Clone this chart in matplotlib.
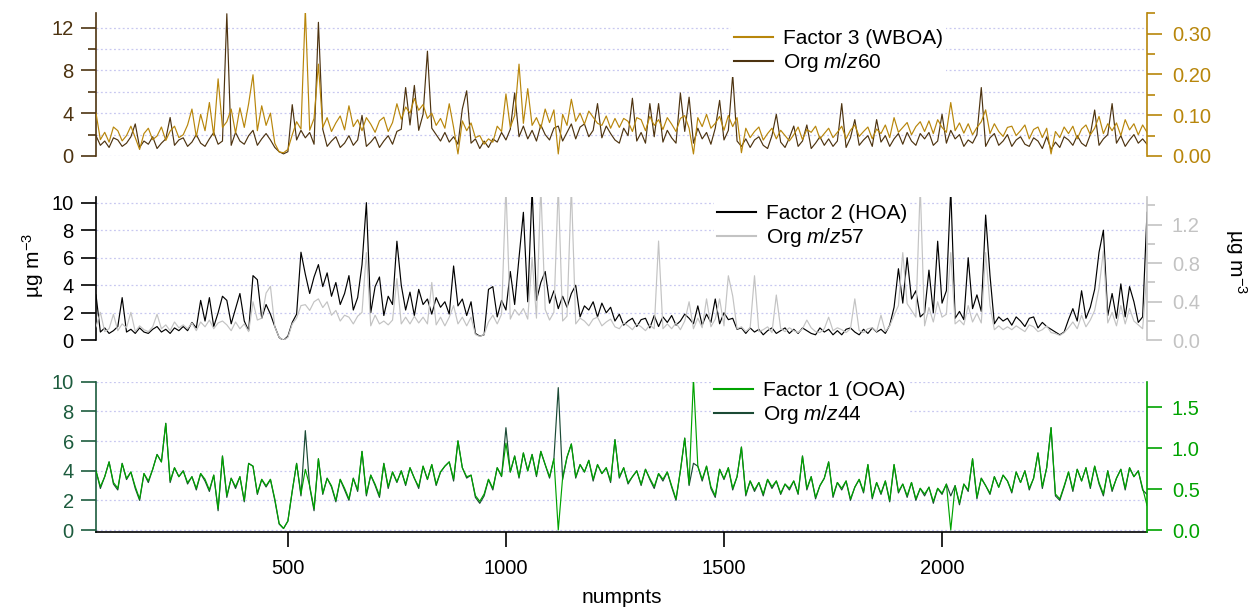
import matplotlib
matplotlib.use('Agg')
import matplotlib.pyplot as plt
import numpy as np
from matplotlib.lines import Line2D
from matplotlib.ticker import FormatStrFormatter, FixedLocator

plt.rcParams['font.family'] = ['Liberation Sans', 'DejaVu Sans']
plt.rcParams['mathtext.fontset'] = 'custom'
plt.rcParams['mathtext.rm'] = 'Liberation Sans'
plt.rcParams['mathtext.it'] = 'Liberation Sans:italic'

# ---------------- data ----------------
numpnts = np.arange(60, 2480, 10)

org_mz60 = [
    1.9, 1.0, 1.4, 0.8, 1.7, 1.5, 0.9, 1.2, 1.8, 3.0,
    0.8, 1.4, 1.1, 1.8, 0.7, 1.2, 1.6, 3.6, 1.0, 1.5,
    1.7, 0.9, 1.3, 2.0, 1.2, 0.9, 1.6, 2.2, 1.1, 1.4,
    13.3, 1.0, 2.2, 1.4, 1.1, 1.9, 2.4, 1.0, 1.6, 2.1,
    1.5, 0.8, 0.4, 0.2, 0.4, 4.8, 1.5, 2.4, 1.7, 2.2,
    1.1, 12.5, 2.5, 0.9, 1.4, 1.8, 0.8, 1.2, 1.9, 1.0,
    1.5, 3.8, 0.9, 1.3, 1.8, 0.8, 1.4, 1.9, 1.1, 2.3,
    2.5, 6.4, 2.9, 6.6, 2.4, 3.9, 9.8, 2.6, 2.0, 1.4,
    2.2, 1.3, 1.8, 1.1, 4.4, 6.1, 1.2, 1.6, 0.7, 1.4,
    0.8, 1.6, 1.3, 2.2, 1.5, 2.5, 5.9, 1.8, 2.8, 1.6,
    2.4, 1.4, 2.9, 2.0, 1.5, 2.6, 2.8, 1.4, 2.2, 3.0,
    1.6, 2.7, 3.0, 1.8, 2.4, 4.9, 1.7, 2.8, 2.1, 1.5,
    1.2, 2.6, 1.9, 5.4, 1.4, 2.2, 1.2, 4.9, 1.8, 4.9,
    1.3, 2.4, 1.7, 1.2, 5.9, 2.3, 5.5, 1.2, 2.6, 1.6,
    2.2, 1.1, 2.6, 5.2, 1.5, 2.4, 7.6, 1.4, 0.9, 1.6,
    0.8, 1.5, 1.8, 1.0, 0.7, 1.9, 3.9, 1.3, 0.8, 1.7,
    2.8, 0.9, 1.4, 2.9, 0.7, 1.2, 1.8, 1.0, 1.6, 0.9,
    1.4, 4.9, 0.8, 1.7, 3.4, 1.0, 1.5, 1.9, 0.9, 3.4,
    1.3, 1.9, 0.9, 1.6, 2.1, 1.1, 2.2, 1.4, 1.0, 2.1,
    1.6, 2.2, 1.0, 1.4, 3.9, 1.2, 2.4, 1.6, 2.0, 0.9,
    1.5, 1.2, 2.0, 6.4, 0.9, 1.7, 2.1, 1.0, 1.4, 2.0,
    0.9, 1.5, 1.8, 1.1, 0.9, 1.7, 1.4, 0.7, 1.8, 0.6,
    1.3, 0.8, 1.8, 1.5, 1.0, 1.9, 1.2, 0.9, 2.0, 4.3,
    1.0, 1.6, 2.0, 4.9, 1.2, 1.9, 0.9, 1.5, 2.0, 1.2,
    1.6, 1.1]

factor3_wboa = [
    0.105, 0.040, 0.058, 0.034, 0.071, 0.062, 0.037, 0.050, 0.073, 0.045,
    0.016, 0.055, 0.068, 0.040, 0.049, 0.071, 0.038, 0.061, 0.073, 0.045,
    0.052, 0.076, 0.115, 0.047, 0.102, 0.062, 0.131, 0.050, 0.189, 0.070,
    0.084, 0.115, 0.056, 0.118, 0.070, 0.128, 0.199, 0.062, 0.123, 0.075,
    0.105, 0.031, 0.010, 0.008, 0.016, 0.052, 0.084, 0.066, 0.360, 0.063,
    0.092, 0.225, 0.070, 0.094, 0.060, 0.081, 0.098, 0.064, 0.123, 0.072,
    0.089, 0.062, 0.094, 0.078, 0.058, 0.086, 0.095, 0.060, 0.082, 0.128,
    0.090, 0.120, 0.105, 0.141, 0.112, 0.126, 0.092, 0.105, 0.075, 0.092,
    0.068, 0.128, 0.070, 0.005, 0.086, 0.062, 0.081, 0.045, 0.050, 0.029,
    0.042, 0.034, 0.073, 0.060, 0.152, 0.070, 0.099, 0.225, 0.080, 0.165,
    0.075, 0.094, 0.068, 0.115, 0.082, 0.113, 0.005, 0.102, 0.075, 0.139,
    0.085, 0.105, 0.078, 0.110, 0.095, 0.080, 0.075, 0.098, 0.068, 0.092,
    0.070, 0.092, 0.085, 0.060, 0.094, 0.089, 0.062, 0.097, 0.075, 0.089,
    0.065, 0.094, 0.078, 0.060, 0.092, 0.099, 0.068, 0.005, 0.094, 0.072,
    0.102, 0.068, 0.080, 0.097, 0.063, 0.099, 0.072, 0.094, 0.008, 0.068,
    0.045, 0.060, 0.071, 0.039, 0.055, 0.068, 0.042, 0.063, 0.050, 0.037,
    0.052, 0.071, 0.040, 0.065, 0.058, 0.073, 0.042, 0.055, 0.068, 0.045,
    0.058, 0.073, 0.042, 0.063, 0.076, 0.048, 0.060, 0.071, 0.042, 0.066,
    0.055, 0.076, 0.045, 0.094, 0.058, 0.070, 0.082, 0.052, 0.072, 0.084,
    0.060, 0.086, 0.055, 0.089, 0.070, 0.058, 0.131, 0.062, 0.081, 0.056,
    0.079, 0.052, 0.070, 0.084, 0.113, 0.055, 0.079, 0.060, 0.048, 0.070,
    0.073, 0.050, 0.062, 0.076, 0.042, 0.065, 0.071, 0.045, 0.068, 0.005,
    0.060, 0.045, 0.071, 0.055, 0.073, 0.042, 0.066, 0.076, 0.052, 0.068,
    0.097, 0.055, 0.079, 0.062, 0.081, 0.050, 0.089, 0.064, 0.079, 0.052,
    0.076, 0.058]

factor2_hoa = [
    3.3, 0.6, 0.9, 0.5, 0.7, 1.0, 3.1, 0.6, 0.8, 0.5,
    0.9, 0.6, 0.5, 0.8, 1.0, 0.6, 0.8, 0.5, 0.9, 0.7,
    1.0, 0.7, 1.3, 0.9, 2.9, 1.4, 3.1, 1.0, 2.0, 3.2,
    2.9, 1.2, 2.3, 3.4, 1.4, 0.7, 4.7, 4.4, 1.6, 2.6,
    1.9, 1.0, 0.2, 0.0, 0.3, 1.3, 1.9, 6.4, 4.8, 3.4,
    4.6, 5.5, 3.9, 4.9, 3.2, 4.2, 2.6, 3.4, 4.7, 2.2,
    3.1, 5.5, 10.0, 2.0, 3.9, 4.6, 1.8, 3.2, 2.6, 7.2,
    4.0, 2.2, 3.5, 1.8, 3.7, 2.6, 3.0, 1.9, 3.1, 2.4,
    2.8, 1.9, 5.4, 2.5, 3.0, 1.8, 2.8, 0.5, 0.3, 0.4,
    3.7, 3.9, 1.7, 2.9, 2.2, 5.0, 2.6, 6.0, 9.3, 2.8,
    11.0, 2.9, 4.2, 5.0, 2.7, 3.6, 2.3, 3.2, 2.4, 3.4,
    4.0, 1.7, 2.5, 2.2, 2.8, 1.7, 2.7, 2.0, 2.4, 1.4,
    1.9, 1.1, 1.4, 1.6, 1.0, 1.5, 1.6, 0.9, 1.8, 1.0,
    1.7, 1.3, 1.8, 1.1, 1.4, 1.9, 1.6, 1.2, 2.5, 1.1,
    1.9, 1.3, 3.0, 1.2, 2.0, 1.5, 1.6, 0.8, 0.9, 0.5,
    0.9, 0.6, 0.8, 0.4, 0.7, 0.9, 0.5, 0.7, 0.9, 0.5,
    0.8, 0.5, 0.9, 0.7, 0.5, 0.4, 0.9, 0.6, 0.8, 0.4,
    0.7, 0.4, 0.8, 0.9, 0.6, 0.4, 0.8, 0.5, 0.9, 0.6,
    0.8, 0.5, 1.1, 2.4, 5.2, 2.7, 6.0, 3.0, 3.6, 1.7,
    2.0, 5.1, 2.0, 7.2, 2.7, 3.6, 11.0, 1.6, 2.1, 1.5,
    6.0, 2.3, 3.3, 2.1, 9.1, 4.7, 1.2, 1.7, 1.4, 1.6,
    1.1, 1.7, 1.4, 1.0, 1.6, 1.7, 0.9, 1.3, 1.0, 0.8,
    0.6, 0.4, 0.6, 1.5, 2.3, 1.4, 3.6, 1.6, 2.4, 3.7,
    6.4, 8.0, 1.8, 3.4, 1.6, 4.1, 1.7, 3.9, 2.8, 1.3,
    1.7, 9.3]

org_mz57 = [
    0.14, 0.29, 0.09, 0.12, 0.27, 0.10, 0.17, 0.13, 0.29, 0.09,
    0.15, 0.11, 0.09, 0.14, 0.27, 0.12, 0.16, 0.10, 0.19, 0.13,
    0.16, 0.12, 0.18, 0.10, 0.19, 0.14, 0.21, 0.12, 0.18, 0.20,
    0.16, 0.10, 0.19, 0.12, 0.17, 0.09, 0.40, 0.21, 0.23, 0.49,
    0.56, 0.14, 0.03, 0.00, 0.03, 0.17, 0.23, 0.36, 0.37, 0.31,
    0.40, 0.43, 0.34, 0.40, 0.26, 0.31, 0.20, 0.26, 0.24, 0.17,
    0.25, 0.29, 0.91, 0.15, 0.26, 0.17, 0.20, 0.16, 0.21, 0.64,
    0.17, 0.24, 0.17, 0.25, 0.18, 0.24, 0.17, 0.60, 0.16, 0.24,
    0.15, 0.24, 0.36, 0.17, 0.24, 0.15, 0.24, 0.06, 0.04, 0.06,
    0.19, 0.26, 0.17, 0.27, 1.60, 0.22, 0.32, 0.26, 0.33, 0.22,
    0.86, 0.23, 1.60, 0.32, 0.21, 0.29, 1.60, 0.20, 0.25, 1.60,
    0.17, 0.23, 0.20, 0.15, 0.22, 0.24, 0.15, 0.19, 0.22, 0.14,
    0.12, 0.18, 0.15, 0.11, 0.17, 0.14, 0.10, 0.16, 0.12, 1.03,
    0.12, 0.17, 0.12, 0.18, 0.11, 0.20, 0.40, 0.12, 0.23, 0.13,
    0.43, 0.14, 0.22, 0.43, 0.15, 0.67, 0.46, 0.12, 0.14, 0.09,
    0.13, 0.67, 0.09, 0.11, 0.14, 0.08, 0.47, 0.12, 0.09, 0.13,
    0.10, 0.08, 0.12, 0.21, 0.13, 0.09, 0.08, 0.12, 0.24, 0.10,
    0.13, 0.11, 0.08, 0.12, 0.43, 0.10, 0.08, 0.12, 0.13, 0.09,
    0.26, 0.09, 0.15, 0.26, 0.36, 0.91, 0.38, 0.31, 0.24, 1.60,
    0.15, 0.34, 0.19, 0.40, 0.24, 0.27, 0.91, 0.17, 0.21, 0.16,
    0.36, 0.19, 0.28, 0.18, 0.91, 0.36, 0.11, 0.15, 0.11, 0.14,
    0.11, 0.15, 0.12, 0.09, 0.16, 0.14, 0.09, 0.11, 0.15, 0.08,
    0.07, 0.05, 0.08, 0.13, 0.19, 0.12, 0.26, 0.14, 0.21, 0.31,
    0.54, 0.93, 0.18, 0.29, 0.15, 0.36, 0.17, 0.33, 0.20, 0.16,
    0.12, 0.71]

org_mz44 = [
    4.0, 2.8, 3.6, 4.6, 3.1, 2.7, 4.5, 3.4, 3.9, 2.8,
    2.0, 3.8, 3.2, 4.1, 5.1, 4.6, 7.2, 3.2, 4.2, 3.6,
    4.0, 3.1, 3.6, 2.7, 3.8, 3.3, 2.6, 3.7, 1.3, 5.0,
    2.2, 3.5, 2.8, 3.6, 1.9, 4.5, 4.3, 2.4, 3.4, 2.9,
    3.4, 2.0, 0.4, 0.1, 0.6, 2.6, 4.5, 2.3, 6.7, 2.9,
    1.3, 4.8, 2.4, 3.5, 2.9, 1.9, 3.4, 2.7, 2.0, 3.5,
    2.6, 5.3, 2.3, 3.7, 3.0, 2.2, 4.5, 2.8, 3.9, 3.2,
    4.0, 3.0, 4.2, 3.5, 2.8, 4.3, 3.4, 4.4, 3.0, 3.9,
    4.3, 4.6, 3.3, 6.0, 4.2, 3.5, 3.7, 2.2, 1.8, 2.3,
    3.4, 2.7, 4.2, 3.6, 6.9, 3.9, 5.0, 3.5, 5.2, 4.0,
    5.1, 3.6, 5.3, 4.4, 3.5, 4.8, 9.6, 3.4, 4.9, 5.8,
    3.5, 4.4, 3.9, 4.7, 3.3, 4.4, 3.8, 4.2, 3.2, 6.1,
    3.5, 4.2, 3.1, 3.6, 4.0, 3.0, 4.1, 3.4, 2.8, 3.8,
    3.3, 3.9, 2.9, 2.0, 4.0, 6.2, 3.0, 4.5, 4.3, 3.3,
    4.3, 2.8, 2.2, 4.1, 3.4, 4.2, 2.7, 3.6, 5.6, 2.3,
    3.3, 2.6, 3.2, 2.3, 3.4, 2.8, 3.3, 2.4, 3.1, 2.7,
    3.3, 2.4, 5.0, 2.7, 3.6, 2.1, 3.0, 3.5, 4.6, 2.2,
    3.2, 2.7, 3.3, 2.0, 2.9, 3.4, 2.5, 4.4, 2.1, 3.2,
    2.4, 3.3, 1.9, 4.4, 2.5, 3.1, 2.2, 3.2, 2.0, 2.8,
    2.3, 2.9, 1.8, 2.8, 2.4, 3.1, 2.3, 3.0, 1.7, 3.1,
    2.6, 4.8, 2.1, 3.5, 3.0, 2.4, 3.6, 2.9, 3.7, 3.3,
    2.5, 3.9, 3.2, 4.0, 2.7, 3.5, 5.2, 2.8, 4.2, 6.9,
    2.3, 2.0, 2.9, 3.9, 2.6, 4.1, 3.3, 4.2, 2.8, 4.3,
    3.1, 2.3, 4.0, 2.6, 3.5, 4.1, 2.7, 4.2, 3.6, 4.0,
    2.7, 2.4]

factor1_ooa = [
    0.72, 0.53, 0.65, 0.83, 0.58, 0.51, 0.81, 0.63, 0.71, 0.53,
    0.38, 0.69, 0.60, 0.74, 0.92, 0.83, 1.30, 0.60, 0.76, 0.65,
    0.72, 0.58, 0.65, 0.51, 0.69, 0.62, 0.49, 0.67, 0.26, 0.90,
    0.42, 0.63, 0.53, 0.65, 0.36, 0.81, 0.78, 0.45, 0.62, 0.54,
    0.62, 0.38, 0.08, 0.02, 0.11, 0.48, 0.81, 0.44, 0.74, 0.54,
    0.26, 0.87, 0.45, 0.63, 0.54, 0.36, 0.62, 0.51, 0.38, 0.63,
    0.49, 0.96, 0.44, 0.67, 0.56, 0.42, 0.81, 0.53, 0.71, 0.59,
    0.72, 0.56, 0.76, 0.63, 0.53, 0.78, 0.62, 0.80, 0.56, 0.71,
    0.78, 0.83, 0.62, 1.09, 0.76, 0.65, 0.67, 0.42, 0.35, 0.44,
    0.62, 0.51, 0.76, 0.66, 1.06, 0.71, 0.90, 0.65, 0.94, 0.72,
    0.92, 0.67, 0.96, 0.80, 0.65, 0.87, 0.00, 0.64, 0.89, 1.05,
    0.65, 0.80, 0.71, 0.85, 0.62, 0.80, 0.69, 0.76, 0.60, 1.10,
    0.65, 0.76, 0.58, 0.65, 0.72, 0.56, 0.74, 0.63, 0.53, 0.69,
    0.62, 0.71, 0.54, 0.38, 0.72, 1.12, 0.56, 1.85, 0.78, 0.62,
    0.78, 0.53, 0.42, 0.74, 0.63, 0.76, 0.51, 0.65, 1.01, 0.44,
    0.60, 0.49, 0.58, 0.44, 0.62, 0.53, 0.60, 0.45, 0.56, 0.51,
    0.60, 0.45, 0.90, 0.51, 0.65, 0.40, 0.54, 0.63, 0.83, 0.42,
    0.58, 0.51, 0.60, 0.38, 0.52, 0.62, 0.47, 0.80, 0.40, 0.58,
    0.45, 0.60, 0.36, 0.80, 0.47, 0.56, 0.42, 0.58, 0.38, 0.51,
    0.44, 0.52, 0.35, 0.51, 0.45, 0.56, 0.00, 0.54, 0.33, 0.56,
    0.49, 0.87, 0.40, 0.63, 0.54, 0.45, 0.65, 0.52, 0.67, 0.60,
    0.47, 0.71, 0.58, 0.72, 0.51, 0.63, 0.94, 0.53, 0.76, 1.25,
    0.44, 0.38, 0.54, 0.71, 0.49, 0.74, 0.60, 0.76, 0.53, 0.78,
    0.58, 0.44, 0.72, 0.49, 0.63, 0.74, 0.51, 0.76, 0.65, 0.72,
    0.51, 0.30]

series = dict(org_mz60=org_mz60, factor3_wboa=factor3_wboa, factor2_hoa=factor2_hoa,
              org_mz57=org_mz57, org_mz44=org_mz44, factor1_ooa=factor1_ooa)
bad = {k: len(v) for k, v in series.items() if len(v) != len(numpnts)}
if bad:
    raise ValueError(f"length mismatch {bad} vs {len(numpnts)}")

# ---------------- style ----------------
BROWN = '#4d3310'
GOLD = '#b8860b'
GREY = '#c3c3c3'
DKGREEN_AX = '#1d5c3e'
DKGREEN = '#1b4a35'
GREEN = '#00a300'
GRID = '#c8c8f0'

FS_TICK = 14.5
FS_LAB = 15
LW = 0.85

W, H = 1255, 610
fig = plt.figure(figsize=(W / 100, H / 100), dpi=100)

def px_axes(x0, y0, x1, y1):
    return fig.add_axes([x0 / W, 1 - y1 / H, (x1 - x0) / W, (y1 - y0) / H])

XL, XR = 96, 1147
ax1 = px_axes(XL, 12.7, XR, 156)
ax2 = px_axes(XL, 197.3, XR, 340.3)
ax3 = px_axes(XL, 381.7, XR, 531.5)

def style(ax, axr, lcol, rcol, lticklab, rticklab, bottom=False):
    for a in (ax, axr):
        a.set_xlim(60, 2470)
        a.spines['top'].set_visible(False)
    axr.patch.set_visible(False)
    ax.spines['right'].set_visible(False)
    axr.spines['left'].set_visible(False)
    ax.spines['left'].set_color(lcol)
    axr.spines['right'].set_color(rcol)
    for a in (ax, axr):
        for s in a.spines.values():
            s.set_linewidth(1.2)
    if not bottom:
        ax.spines['bottom'].set_visible(False)
        ax.tick_params(axis='x', bottom=False, labelbottom=False)
    else:
        ax.spines['bottom'].set_color('black')
    axr.spines['bottom'].set_visible(False)
    axr.tick_params(axis='x', bottom=False, labelbottom=False)
    ax.tick_params(axis='y', which='major', direction='out', length=11, width=1.2,
                   color=lcol, labelcolor=lticklab, labelsize=FS_TICK, pad=5)
    ax.tick_params(axis='y', which='minor', direction='out', length=6, width=1.2, color=lcol)
    axr.tick_params(axis='y', which='major', direction='out', length=11, width=1.2,
                    color=rcol, labelcolor=rticklab, labelsize=FS_TICK, pad=7)
    axr.tick_params(axis='y', which='minor', direction='out', length=6, width=1.2, color=rcol)

def grid(ax, levels):
    for y in levels:
        ax.axhline(y, color=GRID, lw=0.9, ls=(0, (1.5, 2)), zorder=0)

# ---- top panel ----
ax1r = ax1.twinx()
ax1.plot(numpnts, org_mz60, color=BROWN, lw=LW, zorder=2)
ax1r.plot(numpnts, factor3_wboa, color=GOLD, lw=LW, zorder=2)
ax1.set_ylim(0, 13.4)
ax1r.set_ylim(0, 0.351)
grid(ax1, range(0, 13, 2))
style(ax1, ax1r, BROWN, GOLD, BROWN, GOLD)
ax1.yaxis.set_major_locator(FixedLocator([0, 4, 8, 12]))
ax1.yaxis.set_minor_locator(FixedLocator([2, 6, 10]))
ax1r.yaxis.set_major_locator(FixedLocator([0, 0.1, 0.2, 0.3]))
ax1r.yaxis.set_minor_locator(FixedLocator([0.05, 0.15, 0.25, 0.35]))
ax1r.yaxis.set_major_formatter(FormatStrFormatter('%.2f'))

# ---- middle panel ----
ax2r = ax2.twinx()
ax2.plot(numpnts, factor2_hoa, color='black', lw=LW, zorder=2)
ax2r.plot(numpnts, org_mz57, color=GREY, lw=LW, zorder=2)
ax2.set_ylim(0, 10.39)
ax2r.set_ylim(0, 1.484)
grid(ax2, range(0, 11, 2))
style(ax2, ax2r, 'black', GREY, 'black', GREY)
ax2.yaxis.set_major_locator(FixedLocator([0, 2, 4, 6, 8, 10]))
ax2r.yaxis.set_major_locator(FixedLocator([0, 0.4, 0.8, 1.2]))
ax2r.yaxis.set_minor_locator(FixedLocator([0.2, 0.6, 1.0, 1.4]))
ax2r.yaxis.set_major_formatter(FormatStrFormatter('%.1f'))

# ---- bottom panel ----
ax3r = ax3.twinx()
ax3.plot(numpnts, org_mz44, color=DKGREEN, lw=LW, zorder=2)
ax3r.plot(numpnts, factor1_ooa, color=GREEN, lw=LW, zorder=2)
ax3.set_ylim(-0.1, 10)
ax3r.set_ylim(-0.018, 1.81)
grid(ax3, range(0, 11, 2))
style(ax3, ax3r, DKGREEN_AX, GREEN, DKGREEN_AX, GREEN, bottom=True)
ax3.yaxis.set_major_locator(FixedLocator([0, 2, 4, 6, 8, 10]))
ax3r.yaxis.set_major_locator(FixedLocator([0, 0.5, 1.0, 1.5]))
ax3r.yaxis.set_minor_locator(FixedLocator([]))
ax3r.yaxis.set_major_formatter(FormatStrFormatter('%.1f'))
ax3.xaxis.set_major_locator(FixedLocator([500, 1000, 1500, 2000]))
ax3.tick_params(axis='x', which='major', direction='out', length=11, width=1.2,
                labelsize=FS_TICK, pad=9)
ax3.set_xlabel('numpnts', fontsize=FS_LAB, labelpad=7)

# ---- y labels ----
fig.text(33 / W, 1 - 265 / H, r'µg m$^{\mathregular{-3}}$', rotation=90,
         ha='center', va='center', fontsize=FS_LAB)
fig.text(1236 / W, 1 - 262 / H, r'µg m$^{\mathregular{-3}}$', rotation=270,
         ha='center', va='center', fontsize=FS_LAB)

# ---- legends ----
def legend(ax, entries, x, y):
    handles = [Line2D([], [], color=c, lw=1.5) for c, _ in entries]
    labels = [t for _, t in entries]
    lg = ax.legend(handles, labels, loc='upper left', bbox_to_anchor=(x / W, 1 - y / H),
                   bbox_transform=fig.transFigure, frameon=True, fancybox=False,
                   facecolor='white', edgecolor='none', framealpha=1, fontsize=FS_LAB,
                   handlelength=1.85, handletextpad=0.5, labelspacing=0.15,
                   borderpad=0.15, borderaxespad=0)
    lg.set_zorder(10)
    return lg

legend(ax1r, [(GOLD, 'Factor 3 (WBOA)'), (BROWN, r'Org $\it{m/z}$60')], 731, 26)
legend(ax2r, [('black', 'Factor 2 (HOA)'), (GREY, r'Org $\it{m/z}$57')], 714, 201)
legend(ax3r, [(GREEN, 'Factor 1 (OOA)'), (DKGREEN, r'Org $\it{m/z}$44')], 711, 378)

fig.savefig('out.png', dpi=100)
